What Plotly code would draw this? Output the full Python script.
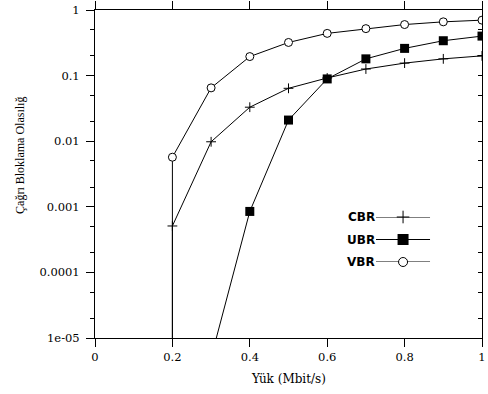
import plotly.graph_objects as go

# ---- data ----
load = [0.2, 0.3, 0.4, 0.5, 0.6, 0.7, 0.8, 0.9, 1.0]
cbr = [0.00051, 0.0098, 0.033, 0.064, 0.092, 0.126, 0.155, 0.18, 0.20]
vbr = [0.0057, 0.065, 0.195, 0.32, 0.44, 0.52, 0.60, 0.66, 0.70]
ubr_load = [0.3, 0.4, 0.5, 0.6, 0.7, 0.8, 0.9, 1.0]
ubr = [5e-6, 0.00085, 0.021, 0.089, 0.18, 0.26, 0.34, 0.40]

y_tick_vals = [1e-5, 1e-4, 1e-3, 1e-2, 1e-1, 1]
y_tick_text = ["1e-05", "0.0001", "0.001", "0.01", "0.1", "1"]
x_tick_vals = [0, 0.2, 0.4, 0.6, 0.8, 1]
x_title = "Yük (Mbit/s)"
y_title = "Çağrı Bloklama Olasılığ"
series_names = ["CBR", "UBR", "VBR"]

Y_MIN = y_tick_vals[0]
minor_vals = [m * v for v in y_tick_vals[:-1] for m in (2, 5)]

BLACK = "#000000"
LINE = dict(color=BLACK, width=1)

fig = go.Figure()

# drop lines where series start (value falls below axis)
for ys in (cbr, vbr):
    fig.add_trace(go.Scatter(x=[load[0], load[0]], y=[Y_MIN, ys[0]], mode="lines",
                             line=LINE, showlegend=False, hoverinfo="skip"))

fig.add_trace(go.Scatter(x=load, y=cbr, mode="lines+markers", line=LINE,
                         marker=dict(symbol="cross-thin-open", size=7, color=BLACK,
                                     line=dict(color=BLACK, width=1)),
                         name="CBR", showlegend=False))
fig.add_trace(go.Scatter(x=ubr_load, y=ubr, mode="lines+markers", line=LINE,
                         marker=dict(symbol="square", size=9, color=BLACK,
                                     line=dict(color=BLACK, width=0)),
                         name="UBR", showlegend=False))
fig.add_trace(go.Scatter(x=load, y=vbr, mode="lines+markers", line=LINE,
                         marker=dict(symbol="circle", size=8, color="white",
                                     line=dict(color=BLACK, width=1)),
                         name="VBR", showlegend=False))

# invisible trace for right mirrored axis
fig.add_trace(go.Scatter(x=[0.5], y=[0.1], mode="markers", marker=dict(opacity=0),
                         yaxis="y2", showlegend=False, hoverinfo="skip"))

# ---- custom legend (text left, line + marker right) ----
leg_markers = [
    dict(symbol="cross-thin-open", size=9, color=BLACK, line=dict(color=BLACK, width=1)),
    dict(symbol="square", size=11, color=BLACK, line=dict(color=BLACK, width=0)),
    dict(symbol="circle", size=9, color="white", line=dict(color=BLACK, width=1)),
]
for i, (nm, mk) in enumerate(zip(series_names, leg_markers)):
    row = len(series_names) - 1 - i
    fig.add_trace(go.Scatter(x=[0, 1], y=[row, row], mode="lines", line=LINE,
                             xaxis="x3", yaxis="y3", showlegend=False, hoverinfo="skip",
                             cliponaxis=False))
    fig.add_trace(go.Scatter(x=[0.5], y=[row], mode="markers", marker=mk,
                             xaxis="x3", yaxis="y3", showlegend=False, hoverinfo="skip",
                             cliponaxis=False))
    fig.add_annotation(x=0, y=row, xref="x3", yref="y3", text="<b>" + nm + "</b>",
                       showarrow=False, xanchor="right", yanchor="middle", xshift=1,
                       font=dict(family="DejaVu Sans", size=12, color=BLACK))

tick_font = dict(family="DejaVu Serif", size=11.5, color=BLACK)

fig.update_layout(
    width=488, height=394,
    margin=dict(l=95, r=6, t=10, b=56, autoexpand=False),
    paper_bgcolor="white", plot_bgcolor="white",
    showlegend=False,
    xaxis=dict(range=[0, 1], tickvals=x_tick_vals, ticks="outside", ticklen=8,
               tickcolor=BLACK, showline=True, linecolor=BLACK, linewidth=1,
               mirror="allticks", showgrid=False, zeroline=False, tickfont=tick_font,
               automargin=False),
    yaxis=dict(type="log", range=[-5, 0], tickvals=y_tick_vals, ticktext=y_tick_text,
               ticks="outside", ticklen=8, tickcolor=BLACK, showline=True,
               linecolor=BLACK, linewidth=1, showgrid=False, zeroline=False,
               tickfont=tick_font, automargin=False, ticklabelstandoff=4,
               minor=dict(tickvals=minor_vals, ticks="outside", ticklen=4,
                          tickcolor=BLACK, showgrid=False)),
    yaxis2=dict(type="log", range=[-5, 0], overlaying="y", side="right", anchor="x",
                tickvals=y_tick_vals, showticklabels=False, ticks="inside", ticklen=4,
                tickcolor=BLACK, showline=True, linecolor=BLACK, linewidth=1,
                showgrid=False, zeroline=False, automargin=False,
                minor=dict(tickvals=minor_vals, ticks="inside", ticklen=4,
                           tickcolor=BLACK, showgrid=False)),
    xaxis3=dict(domain=[0.726, 0.866], range=[0, 1], visible=False, anchor="y3"),
    yaxis3=dict(domain=[0.2317, 0.3689], range=[0, 2], visible=False, anchor="x3"),
)

fig.add_annotation(x=0.5, y=-0.125, xref="paper", yref="paper", text=x_title,
                   showarrow=False, xanchor="center", yanchor="middle",
                   font=dict(family="DejaVu Serif", size=12, color=BLACK))
fig.add_annotation(x=-0.194, y=0.558, xref="paper", yref="paper", text=y_title,
                   textangle=-90, showarrow=False, xanchor="center", yanchor="middle",
                   font=dict(family="Liberation Serif", size=12, color=BLACK))

fig.write_html("out.html")
